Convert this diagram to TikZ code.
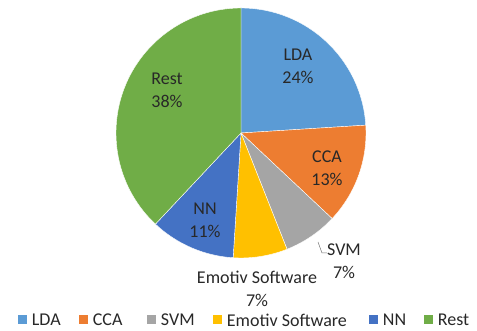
\documentclass[tikz,border=0pt]{standalone}
\usepackage{fontspec}
\setmainfont{Carlito}
\usetikzlibrary{positioning}
\definecolor{ldacol}{RGB}{91,155,213}
\definecolor{ccacol}{RGB}{237,125,49}
\definecolor{svmcol}{RGB}{165,165,165}
\definecolor{emocol}{RGB}{255,192,0}
\definecolor{nncol}{RGB}{68,114,196}
\definecolor{restcol}{RGB}{112,173,71}
\definecolor{txtcol}{RGB}{40,40,40}

\begin{document}
\begin{tikzpicture}[
  x=1pt, y=1pt,
  font=\fontsize{18}{23}\selectfont,
  lbl/.style={text=txtcol, align=center, inner sep=0pt},
  key/.style={minimum size=9pt, inner sep=0pt},
  keytext/.style={text=txtcol, inner sep=0pt, anchor=west},
  leader/.style={draw=svmcol!70!black, line width=0.5pt},
]
\useasboundingbox (0,0) rectangle (477,331);

% ---- Slices (start angle / end angle / colour) ----
\coordinate (c) at (241,198);
\foreach \a/\b/\col in {90/3.6/ldacol, 3.6/-43.2/ccacol, -43.2/-68.4/svmcol,
                        -68.4/-93.6/emocol, -93.6/-133.2/nncol, -133.2/-270/restcol}
  \filldraw[fill=\col, draw=white, line width=0.4pt]
    (c) -- ++(\a:125) arc[start angle=\a, end angle=\b, radius=125] -- cycle;

% ---- Data labels ----
\node[lbl] (lda)  at (298,265) {LDA\\24\%};
\node[lbl] (cca)  at (327,163) {CCA\\13\%};
\node[lbl] (nn)   at (205,111) {NN\\11\%};
\node[lbl] (rest) at (167,241) {Rest\\38\%};
\node[lbl] (svm)  at (344,70)  {SVM\\7\%};
\node[lbl] (emo)  at (257,42)  {Emotiv Software\\7\%};

% leader for the SVM label
\coordinate (svmtip) at (318,89);
\draw[leader] (svmtip) -- (322,78) -- (svm.west |- 0,78);

% ---- Legend ----
\foreach \x/\col/\name/\txt in {22/ldacol/kLDA/LDA, 83/ccacol/kCCA/CCA,
                                151/svmcol/kSVM/SVM, 217/emocol/kEmo/Emotiv Software,
                                373/nncol/kNN/NN, 428/restcol/kRest/Rest}
{
  \node[key, fill=\col] (\name) at (\x,11) {};
  \node[keytext, right=5pt of \name] {\txt};
}
\end{tikzpicture}
\end{document}
